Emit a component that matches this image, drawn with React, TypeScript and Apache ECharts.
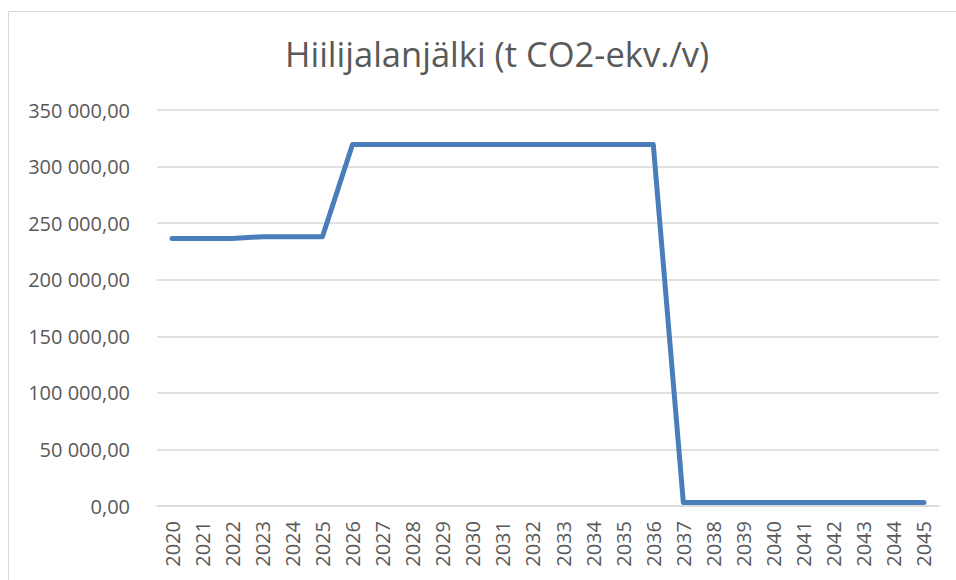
import React, { useEffect, useRef } from "react";
import * as echarts from "echarts";

const years = [
  "2020", "2021", "2022", "2023", "2024", "2025", "2026", "2027", "2028",
  "2029", "2030", "2031", "2032", "2033", "2034", "2035", "2036", "2037",
  "2038", "2039", "2040", "2041", "2042", "2043", "2044", "2045",
];
const footprint = [
  236500, 236500, 236500, 238000, 238000, 238000, 319500, 319500, 319500,
  319500, 319500, 319500, 319500, 319500, 319500, 319500, 319500, 3000,
  3000, 3000, 3000, 3000, 3000, 3000, 3000, 3000,
];
const titleText = "Hiilijalanjälki (t CO2-ekv./v)";

function fmt(v: number): string {
  const s = Math.round(v).toString().replace(/\B(?=(\d{3})+(?!\d))/g, " ");
  return s + ",00";
}

export default function App() {
  const ref = useRef<HTMLDivElement>(null);
  useEffect(() => {
    if (!ref.current) return;
    const chart = echarts.init(ref.current, undefined, { renderer: "svg" });
    const font = "'Open Sans', sans-serif";
    chart.setOption({
      animation: false,
      backgroundColor: "#ffffff",
      title: {
        text: titleText,
        left: 280,
        top: 31,
        textStyle: { fontFamily: font, fontSize: 34.5, fontWeight: "normal", color: "#595959" },
      },
      graphic: [
        {
          type: "rect",
          shape: { x: 8.5, y: 11.5, width: 1000, height: 700 },
          style: { fill: "none", stroke: "#d9d9d9", lineWidth: 1 },
          silent: true,
        },
      ],
      grid: { left: 157, right: 17, top: 110, bottom: 74 },
      xAxis: {
        type: "category",
        data: years,
        boundaryGap: true,
        axisLine: { show: true, lineStyle: { color: "#d9d9d9", width: 1.5 } },
        axisTick: { show: false },
        axisLabel: {
          rotate: 90,
          interval: 0,
          margin: 15,
          fontFamily: font,
          fontSize: 20,
          color: "#595959",
        },
      },
      yAxis: {
        type: "value",
        min: 0,
        max: 350000,
        interval: 50000,
        axisLine: { show: false },
        axisTick: { show: false },
        splitLine: { lineStyle: { color: "#d9d9d9", width: 1.5 } },
        axisLabel: {
          formatter: (v: number) => fmt(v),
          margin: 27,
          fontFamily: font,
          fontSize: 20,
          color: "#595959",
        },
      },
      series: [
        {
          type: "line",
          data: footprint,
          showSymbol: false,
          symbol: "none",
          lineStyle: { color: "#4a7ebb", width: 5, cap: "round", join: "round" },
        },
      ],
    });
    return () => chart.dispose();
  }, []);
  return (
    <div
      ref={ref}
      style={{ position: "fixed", left: 0, top: 0, width: 956, height: 580 }}
    />
  );
}
